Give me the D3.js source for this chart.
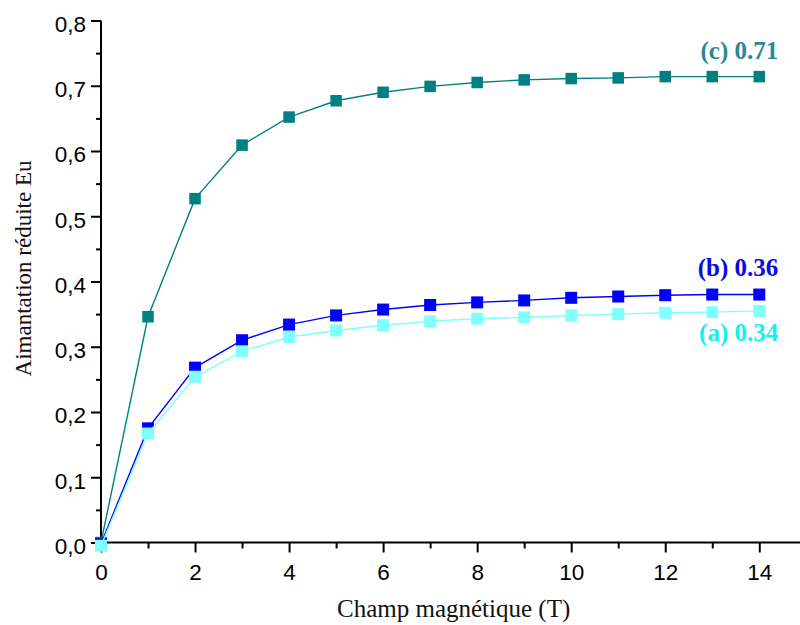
<!DOCTYPE html>
<html>
<head>
<meta charset="utf-8">
<script src="https://cdn.jsdelivr.net/npm/d3@7"></script>
<style>
  html, body { margin: 0; padding: 0; background: #fff; }
  svg { display: block; }
</style>
</head>
<body>
<svg id="chart" width="800" height="625"></svg>
<script>
// ---- data ----
const fields = [0, 1, 2, 3, 4, 5, 6, 7, 8, 9, 10, 11, 12, 13, 14];
const serieA = [-0.005, 0.167, 0.254, 0.293, 0.315, 0.325, 0.333, 0.339, 0.343, 0.345, 0.348, 0.350, 0.352, 0.353, 0.355];
const serieB = [-0.002, 0.175, 0.268, 0.310, 0.334, 0.348, 0.357, 0.364, 0.368, 0.371, 0.375, 0.377, 0.379, 0.380, 0.380];
const serieC = [0.000, 0.346, 0.527, 0.609, 0.652, 0.677, 0.690, 0.699, 0.705, 0.709, 0.711, 0.712, 0.714, 0.714, 0.714];
const seriesNames = ["c", "b", "a"];
const seriesLabels = ["(c) 0.71", "(b) 0.36", "(a) 0.34"];
const xMajorTicks = [0, 2, 4, 6, 8, 10, 12, 14];
const xMinorTicks = [1, 3, 5, 7, 9, 11, 13];
const yMajorTicks = [0, 0.1, 0.2, 0.3, 0.4, 0.5, 0.6, 0.7, 0.8];
const yMinorTicks = [0.05, 0.15, 0.25, 0.35, 0.45, 0.55, 0.65, 0.75];
const xTitle = "Champ magnétique (T)";
const yTitle = "Aimantation réduite Eu";

// ---- layout ----
const svg = d3.select("#chart");
const x = d3.scaleLinear().domain([0, 15]).range([101, 806.3]);
const y = d3.scaleLinear().domain([0, 0.8]).range([542.5, 20.5]);

const styles = {
  c: { line: "#008080", fill: "#008080", text: "#2c8898", size: 11.5 },
  b: { line: "#0000ff", fill: "#0000ff", text: "#0a0ae6", size: 12 },
  a: { line: "#80ffff", fill: "#80ffff", text: "#14f0f0", size: 12 }
};
const dataBy = { a: serieA, b: serieB, c: serieC };

const tickFont = "'Liberation Sans', Arial, sans-serif";
const serifFont = "'Liberation Serif', 'Times New Roman', serif";

// ---- axes ----
const fmt = d => d3.format(".1f")(d).replace(".", ",");

const gy = svg.append("g").attr("transform", `translate(${x(0)},0)`);
gy.call(d3.axisLeft(y).tickValues(yMajorTicks).tickSize(10).tickPadding(5).tickFormat(fmt));
gy.select(".domain").attr("stroke", "#000").attr("stroke-width", 2).attr("d", `M0,${y(0)}V${y(0.8)}`);
gy.selectAll(".tick line").attr("stroke", "#000").attr("stroke-width", 2);
gy.selectAll(".tick text")
  .attr("font-family", tickFont).attr("font-size", 22.5).attr("fill", "#000")
  .attr("dy", "0.48em");
const gym = svg.append("g").attr("transform", `translate(${x(0)},0)`);
gym.call(d3.axisLeft(y).tickValues(yMinorTicks).tickSize(5).tickFormat(""));
gym.select(".domain").remove();
gym.selectAll(".tick line").attr("stroke", "#000").attr("stroke-width", 2);

const gx = svg.append("g").attr("transform", `translate(0,${y(0)})`);
gx.call(d3.axisBottom(x).tickValues(xMajorTicks).tickSize(10).tickPadding(12).tickFormat(d3.format("d")));
gx.select(".domain").attr("stroke", "#000").attr("stroke-width", 2).attr("d", `M${x(0)-1},0H${x(15)}`);
gx.selectAll(".tick line").attr("stroke", "#000").attr("stroke-width", 2);
gx.selectAll(".tick text")
  .attr("font-family", tickFont).attr("font-size", 22.5).attr("fill", "#000");
const gxm = svg.append("g").attr("transform", `translate(0,${y(0)})`);
gxm.call(d3.axisBottom(x).tickValues(xMinorTicks).tickSize(6).tickFormat(""));
gxm.select(".domain").remove();
gxm.selectAll(".tick line").attr("stroke", "#000").attr("stroke-width", 2);

// ---- titles ----
svg.append("text")
  .attr("x", (x(0) + x(15)) / 2).attr("y", 617)
  .attr("text-anchor", "middle")
  .attr("font-family", serifFont).attr("font-size", 25).attr("fill", "#111")
  .text(xTitle);
svg.append("text")
  .attr("transform", `translate(31,268.5) rotate(-90)`)
  .attr("text-anchor", "middle")
  .attr("font-family", serifFont).attr("font-size", 23).attr("fill", "#111")
  .text(yTitle);

// ---- series ----
const line = d3.line().x((d, i) => x(fields[i])).y(d => y(d));
seriesNames.forEach(name => {
  const st = styles[name];
  const vals = dataBy[name];
  svg.append("path")
    .datum(vals)
    .attr("d", line)
    .attr("fill", "none")
    .attr("stroke", st.line)
    .attr("stroke-width", 1.4);
  svg.append("g").selectAll("rect")
    .data(vals)
    .join("rect")
    .attr("x", (d, i) => x(fields[i]) - st.size / 2)
    .attr("y", d => y(d) - st.size / 2)
    .attr("width", st.size)
    .attr("height", st.size)
    .attr("fill", st.fill);
});

// ---- end labels ----
const labelOffsets = { c: -18, b: -19, a: 30 };
seriesNames.forEach((name, k) => {
  const vals = dataBy[name];
  svg.append("text")
    .attr("x", x(fields[fields.length - 1]) + 19)
    .attr("y", y(vals[vals.length - 1]) + labelOffsets[name])
    .attr("text-anchor", "end")
    .attr("font-family", serifFont).attr("font-weight", "bold").attr("font-size", 25)
    .attr("fill", styles[name].text)
    .text(seriesLabels[k]);
});
</script>
</body>
</html>
